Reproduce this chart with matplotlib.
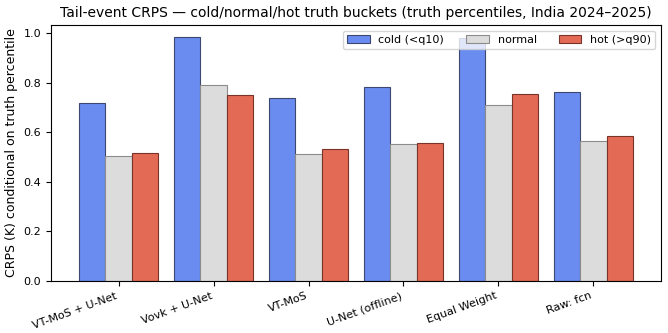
import matplotlib
matplotlib.use("Agg")
import matplotlib.pyplot as plt
import numpy as np

models = ["VT-MoS + U-Net", "Vovk + U-Net", "VT-MoS", "U-Net (offline)", "Equal Weight", "Raw: fcn"]
cold = [0.718, 0.984, 0.738, 0.782, 0.982, 0.762]
normal = [0.504, 0.792, 0.512, 0.552, 0.710, 0.564]
hot = [0.516, 0.750, 0.532, 0.556, 0.754, 0.585]
series_labels = ["cold (<q10)", "normal", "hot (>q90)"]
series_colors = ["#6a8cf0", "#dcdcdc", "#e36b55"]
series_edges = ["#3c4870", "#8c8c8c", "#7a3328"]

fig, ax = plt.subplots(figsize=(6.68, 3.33), dpi=100)
x = np.arange(len(models))
w = 0.28
for i, (vals, lab, col, ec) in enumerate(zip([cold, normal, hot], series_labels, series_colors, series_edges)):
    ax.bar(x + (i - 1) * w, vals, width=w, color=col, edgecolor=ec, linewidth=0.8, label=lab)

ax.set_xticks(x)
ax.set_xticklabels(models, rotation=20, ha="right", fontsize=8)
ax.tick_params(axis="y", labelsize=8)
ax.set_ylabel("CRPS (K) conditional on truth percentile", fontsize=9)
ax.set_title("Tail-event CRPS — cold/normal/hot truth buckets (truth percentiles, India 2024–2025)", fontsize=10)
ax.legend(ncol=3, loc="upper right", fontsize=8)
fig.subplots_adjust(left=51/668, right=661/668, top=1-25/333, bottom=1-281/333)
fig.savefig("out.png", dpi=100)
